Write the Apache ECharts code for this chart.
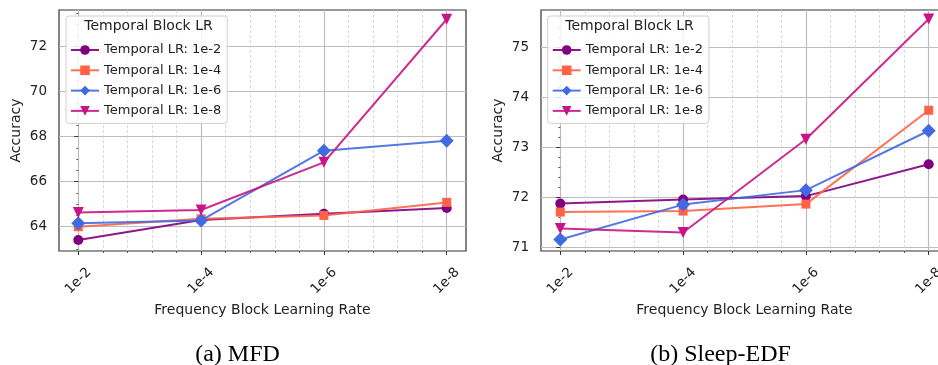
<!DOCTYPE html>
<html><head><meta charset="utf-8">
<script src="https://cdn.jsdelivr.net/npm/echarts@6/dist/echarts.min.js"></script>
<style>html,body{margin:0;padding:0;background:#fff}#c{width:938px;height:365px}</style>
</head><body><div id="c"></div>
<script>
// ---- data ----
const categories = ['1e-2', '1e-4', '1e-6', '1e-8'];
const seriesNames = ['Temporal LR: 1e-2', 'Temporal LR: 1e-4', 'Temporal LR: 1e-6', 'Temporal LR: 1e-8'];
const mfdLr2 = [63.41, 64.30, 64.57, 64.83];
const mfdLr4 = [64.00, 64.35, 64.50, 65.08];
const mfdLr6 = [64.15, 64.28, 67.38, 67.82];
const mfdLr8 = [64.63, 64.74, 66.86, 73.22];
const edfLr2 = [71.87, 71.95, 72.02, 72.66];
const edfLr4 = [71.70, 71.72, 71.86, 73.74];
const edfLr6 = [71.15, 71.85, 72.14, 73.33];
const edfLr8 = [71.37, 71.29, 73.16, 75.57];
const xTickValues = [0, 1, 2, 3];
const yTicksMFD = [64, 66, 68, 70, 72];
const yTicksEDF = [71, 72, 73, 74, 75];
const panelTitles = ['(a) MFD', '(b) Sleep-EDF'];
const legendTitle = 'Temporal Block LR';

// ---- styles ----
const colors = ['#800080', '#FF6347', '#4169E1', '#C71585'];
const symbols = ['circle', 'rect', 'diamond', 'triangle'];
const symbolSizes = [10, 9, 14, 11];
const symbolRotates = [0, 0, 0, 180];
const FONT = 'DejaVu Sans';

const chart = echarts.init(document.getElementById('c'), null, {renderer: 'canvas'});

function xAxisFor(gi) {
  return {
    type: 'value', gridIndex: gi, min: -0.157, max: 3.157, splitNumber: 3,
    name: 'Frequency Block Learning Rate', nameLocation: 'middle', nameGap: 48,
    nameTextStyle: {fontFamily: FONT, fontSize: 14, color: '#222'},
    axisLine: {show: false, onZero: false},
    axisTick: {show: true, length: 4, lineStyle: {color: '#333', width: 1}, customValues: xTickValues},
    minorTick: {show: true, splitNumber: 5, length: 2, lineStyle: {color: '#333', width: 0.8}},
    axisLabel: {
      customValues: xTickValues, rotate: 45, margin: 30, align: 'center', verticalAlign: 'middle',
      fontFamily: FONT, fontSize: 13.5, color: '#222', hideOverlap: false,
      formatter: v => (Number.isInteger(v) && categories[v] !== undefined) ? categories[v] : ''
    },
    splitLine: {show: true, lineStyle: {color: '#bdbdbd', width: 1.2}},
    minorSplitLine: {show: true, lineStyle: {color: '#cfcfcf', width: 0.8, type: [3, 2]}}
  };
}
function yAxisFor(gi, min, max, ticks, minorSplit) {
  return {
    type: 'value', gridIndex: gi, min: min, max: max,
    name: 'Accuracy', nameLocation: 'middle', nameGap: 36,
    nameTextStyle: {fontFamily: FONT, fontSize: 14, color: '#222'},
    axisLine: {show: false},
    axisTick: {show: true, length: 4, lineStyle: {color: '#333', width: 1}, customValues: ticks},
    minorTick: {show: true, splitNumber: minorSplit, length: 2, lineStyle: {color: '#333', width: 0.8}},
    axisLabel: {
      customValues: ticks, margin: 12, fontFamily: FONT, fontSize: 13.5, color: '#222',
      formatter: v => Number.isInteger(v) ? String(v) : ''
    },
    splitLine: {show: true, lineStyle: {color: '#bdbdbd', width: 1.2}},
    minorSplitLine: {show: false}
  };
}
function seriesFor(gi, arrays) {
  return arrays.map((arr, i) => ({
    type: 'line', name: seriesNames[i], xAxisIndex: gi, yAxisIndex: gi,
    data: arr.map((v, k) => [xTickValues[k], v]),
    symbol: symbols[i], symbolSize: symbolSizes[i], symbolRotate: symbolRotates[i],
    itemStyle: {color: colors[i], opacity: 1},
    lineStyle: {color: colors[i], width: 2, opacity: 0.9},
    emphasis: {disabled: true}, animation: false, z: 3 + i
  }));
}
function legendFor(left) {
  return {
    left: left, top: 16, orient: 'vertical',
    data: seriesNames,
    itemWidth: 28, itemHeight: 12, itemGap: 7.3, itemTextGap: 21,
    padding: [27.5, 6, 6, 4],
    backgroundColor: 'rgba(255,255,255,0.85)', borderColor: '#d0d0d0', borderWidth: 1, borderRadius: 3,
    textStyle: {fontFamily: FONT, fontSize: 13, color: '#222'},
    selectedMode: false
  };
}

chart.setOption({
  backgroundColor: '#fff',
  animation: false,
  grid: [
    {left: 59, top: 10, width: 407, height: 241, show: true, borderColor: '#333', borderWidth: 1.2,
     backgroundColor: 'transparent', containLabel: false, outerBoundsMode: 'none'},
    {left: 541, top: 10, width: 407, height: 241, show: true, borderColor: '#333', borderWidth: 1.2,
     backgroundColor: 'transparent', containLabel: false, outerBoundsMode: 'none'}
  ],
  xAxis: [xAxisFor(0), xAxisFor(1)],
  yAxis: [yAxisFor(0, 62.92, 73.63, yTicksMFD, 4), yAxisFor(1, 70.92, 75.75, yTicksEDF, 5)],
  legend: [legendFor(66), legendFor(547.7)],
  title: [
    {text: legendTitle, left: 148.5, top: 19, textAlign: 'center', padding: 0, z: 10,
     textStyle: {fontFamily: FONT, fontSize: 14, fontWeight: 'normal', color: '#222'}},
    {text: legendTitle, left: 629.5, top: 19, textAlign: 'center', padding: 0, z: 10,
     textStyle: {fontFamily: FONT, fontSize: 14, fontWeight: 'normal', color: '#222'}},
    {text: panelTitles[0], left: 237.5, top: 343, textAlign: 'center', padding: 0,
     textStyle: {fontFamily: 'Liberation Serif', fontSize: 24, fontWeight: 'normal', color: '#000'}},
    {text: panelTitles[1], left: 720.5, top: 343, textAlign: 'center', padding: 0,
     textStyle: {fontFamily: 'Liberation Serif', fontSize: 24, fontWeight: 'normal', color: '#000'}}
  ],
  series: [
    ...seriesFor(0, [mfdLr2, mfdLr4, mfdLr6, mfdLr8]),
    ...seriesFor(1, [edfLr2, edfLr4, edfLr6, edfLr8])
  ]
});
</script>
</body></html>
